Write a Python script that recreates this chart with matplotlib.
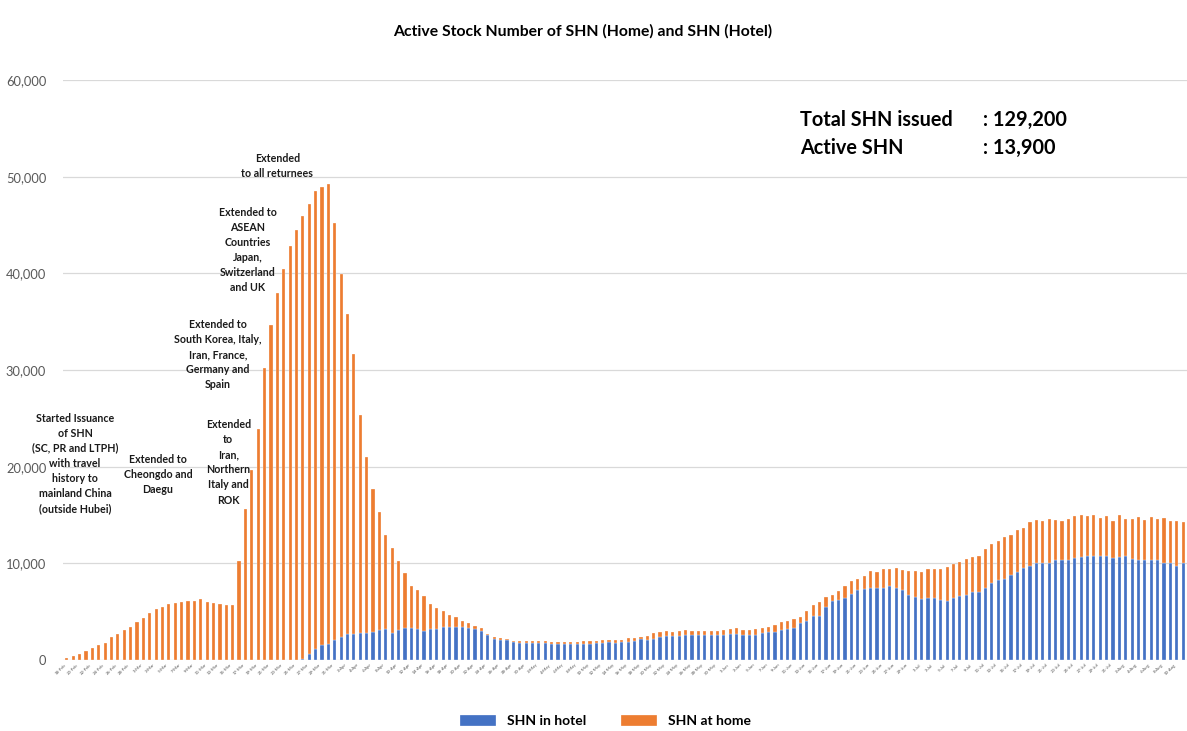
import matplotlib.pyplot as plt
import numpy as np
import pandas as pd

plt.rcParams['font.family'] = ['Lato', 'DejaVu Sans']

# daily active stock, 18 Feb 2020 onwards
start_date = '2020-02-18'
total = [250, 450, 650, 900, 1200, 1550, 1720, 2380, 2690, 3100,
         3450, 3900, 4380, 4830, 5310, 5520, 5760, 5930, 5970, 6070,
         6140, 6280, 5970, 5930, 5760, 5660, 5690, 10200, 15600, 19650,
         23900, 30200, 34700, 38000, 40400, 42800, 44500, 45900, 47200, 48500,
         48900, 49200, 45200, 39900, 35800, 31700, 25300, 21000, 17700, 15300,
         12900, 11600, 10200, 8950, 7700, 7250, 6650, 5800, 5400, 5100,
         4700, 4400, 4050, 3850, 3500, 3300, 2700, 2400, 2300, 2150,
         2000, 2000, 1950, 1930, 1920, 1920, 1870, 1870, 1870, 1870,
         1880, 1920, 1920, 2000, 2050, 2100, 2100, 2120, 2250, 2300,
         2400, 2500, 2750, 2900, 3000, 2900, 3000, 3100, 3050, 3000,
         3050, 3000, 3050, 3100, 3200, 3300, 3100, 3100, 3200, 3350,
         3400, 3600, 3900, 4000, 4200, 4500, 5070, 5700, 5950, 6550,
         6700, 7150, 7650, 8200, 8400, 8700, 9200, 9100, 9400, 9400,
         9500, 9350, 9250, 9250, 9100, 9450, 9450, 9400, 9650, 9900,
         10100, 10400, 10700, 10800, 11500, 12000, 12350, 12750, 12900, 13450,
         13700, 14300, 14500, 14400, 14600, 14500, 14400, 14600, 14900, 15000,
         14850, 15000, 14700, 14900, 14400, 15000, 14600, 14600, 14750, 14500,
         14750, 14600, 14700, 14400, 14400, 14300]
hotel = [0] * 37 + [
         100, 600, 1100, 1550, 1700, 2100, 2350, 2700, 2700, 2750,
         2750, 2900, 3150, 3250, 2800, 3100, 3300, 3300, 3250, 3050,
         3170, 3170, 3400, 3450, 3450, 3400, 3350, 3200, 3000, 2550,
         2150, 2050, 2030, 1850, 1800, 1800, 1730, 1720, 1720, 1660,
         1660, 1660, 1660, 1660, 1670, 1700, 1720, 1780, 1850, 1800,
         1830, 1900, 2000, 2150, 2070, 2200, 2400, 2500, 2500, 2500,
         2600, 2550, 2550, 2550, 2550, 2550, 2600, 2700, 2700, 2600,
         2600, 2600, 2800, 2850, 2900, 3100, 3200, 3350, 3800, 4070,
         4550, 4600, 5450, 6100, 6200, 6450, 6800, 7200, 7350, 7500,
         7500, 7500, 7650, 7500, 7200, 6700, 6550, 6300, 6450, 6450,
         6200, 6150, 6400, 6600, 6700, 7000, 7050, 7400, 8000, 8300,
         8400, 8750, 9150, 9500, 9750, 10050, 10050, 10050, 10350, 10300,
         10300, 10600, 10700, 10750, 10750, 10750, 10800, 10600, 10700, 10750,
         10500, 10350, 10300, 10300, 10300, 10050, 10000, 9750, 10050]

yticks = [0, 10000, 20000, 30000, 40000, 50000, 60000]
title = 'Active Stock Number of SHN (Home) and SHN (Hotel)'
summary_labels = ['Total SHN issued', 'Active SHN']
summary_values = [': 129,200', ': 13,900']

home = np.array(total) - np.array(hotel)
x = np.arange(len(total))
dates = pd.date_range(start_date, periods=len(total), freq='D')
date_labels = [f'{d.day}-{d.strftime("%b")}' for d in dates]

blue = '#4472C4'
orange = '#ED7D31'

fig = plt.figure(figsize=(11.87, 7.31), dpi=100)
ax = fig.add_axes([63 / 1187, 71 / 731, 1 - 63 / 1187, 580 / 731])

ax.bar(x, hotel, width=0.5, color=blue, edgecolor='white', linewidth=0.2,
       label='SHN in hotel', zorder=3)
ax.bar(x, home, width=0.5, bottom=hotel, color=orange, edgecolor='white',
       linewidth=0.2, label='SHN at home', zorder=3)

ax.set_xlim(-0.6, 175.6)
ax.set_ylim(0, 60000)
ax.set_yticks(yticks)
ax.set_yticklabels([f'{v:,}' for v in yticks], color='#595959', fontsize=9.3)
ax.yaxis.grid(True, color='#D9D9D9', linewidth=0.9, zorder=0)
ax.tick_params(axis='y', length=0, pad=12)
ax.set_xticks(x[::2])
ax.set_xticklabels(date_labels[::2], rotation=45, ha='right', fontsize=3.2,
                   color='#595959')
ax.tick_params(axis='x', length=0, pad=2)
for s in ax.spines.values():
    s.set_visible(False)

fig.text(0.491, 0.957, title, ha='center', va='center', fontsize=11.3,
         fontweight='bold', color='#000000')

# summary box
for k in range(2):
    fig.text(800 / 1187, 1 - (120 + 28 * k) / 731, summary_labels[k],
             ha='left', va='center', fontsize=14.3, fontweight='bold')
    fig.text(983 / 1187, 1 - (120 + 28 * k) / 731, summary_values[k],
             ha='left', va='center', fontsize=14.3, fontweight='bold')

# policy annotations
ann = dict(ha='center', va='top', fontsize=7.7, fontweight='bold',
           color='#1a1a1a', linespacing=1.45, zorder=5)
ax.text(1.3, 25600, 'Started Issuance\nof SHN\n(SC, PR and LTPH)\nwith travel\n'
        'history to\nmainland China\n(outside Hubei)', **ann)
ax.text(14.3, 21300, 'Extended to\nCheongdo and\nDaegu', **ann)
ax.text(25.3, 24900, 'Extended\nto\nIran,\nNorthern\nItaly and\nROK', **ann)
ax.text(23.7, 35300, 'Extended to\nSouth Korea, Italy,\nIran, France,\n'
        'Germany and\nSpain', **ann)
ax.text(28.4, 46900, 'Extended to\nASEAN\nCountries\nJapan,\nSwitzerland\nand UK', **ann)
ax.text(33.0, 52500, 'Extended\nto all returnees', **ann)

fig.legend(loc='center', bbox_to_anchor=(0.51, 1 - 721 / 731), ncol=2,
           frameon=False, handlelength=2.6, handleheight=0.8,
           columnspacing=2.5, prop={'weight': 'bold', 'size': 10})

fig.savefig('out.png', dpi=100)
